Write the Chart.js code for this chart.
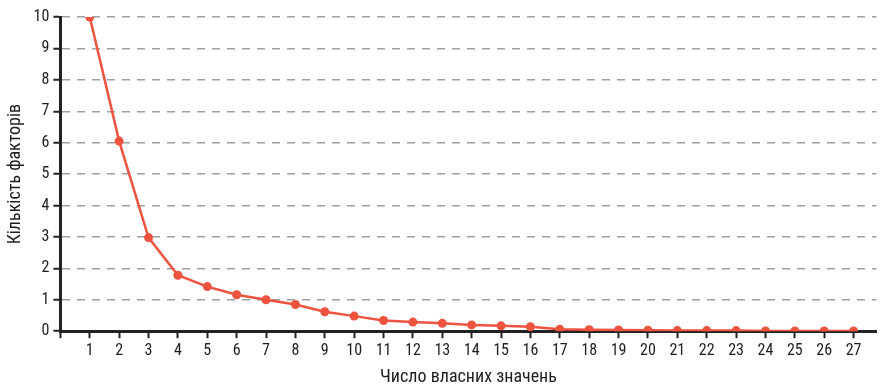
<!DOCTYPE html>
<html>
<head>
<meta charset="utf-8">
<script src="https://cdn.jsdelivr.net/npm/chart.js@4.4.0/dist/chart.umd.min.js"></script>
<style>
  html, body { margin: 0; padding: 0; background: #fff; }
  #wrap { width: 881px; height: 384px; }
</style>
</head>
<body>
<div id="wrap"><canvas id="screeChart"></canvas></div>
<script>
// --- Data ---
const eigenNumbers = [1, 2, 3, 4, 5, 6, 7, 8, 9, 10, 11, 12, 13, 14, 15, 16, 17, 18, 19, 20, 21, 22, 23, 24, 25, 26, 27];
const factorCounts = [10, 6.05, 2.98, 1.78, 1.42, 1.16, 1.0, 0.85, 0.62, 0.48, 0.34, 0.29, 0.25, 0.2, 0.17, 0.14, 0.06, 0.05, 0.04, 0.03, 0.02, 0.02, 0.02, 0.01, 0.01, 0.01, 0.01];
const yTicks = [0, 1, 2, 3, 4, 5, 6, 7, 8, 9, 10];

const fontFamily = "'Liberation Sans Narrow', 'Roboto Condensed', 'Liberation Sans', sans-serif";
const lineColor = '#ee5340';
const textColor = '#1e1e1e';

const ctx = document.getElementById('screeChart').getContext('2d');
new Chart(ctx, {
    type: 'line',
    data: {
        datasets: [{
            data: eigenNumbers.map((n, i) => ({ x: n, y: factorCounts[i] })),
            borderColor: lineColor,
            backgroundColor: lineColor,
            borderWidth: 2.5,
            pointRadius: 4.5,
            pointBorderWidth: 0,
            tension: 0
        }]
    },
    options: {
        responsive: true,
        maintainAspectRatio: false,
        animation: false,
        // top padding is a floor, not added to the label overflow
        layout: { padding: { top: 17, right: 0, left: 5, bottom: 0 } },
        plugins: { legend: { display: false }, tooltip: { enabled: false } },
        scales: {
            x: {
                type: 'linear',
                min: 0,
                max: 27.78,
                grid: { drawOnChartArea: false, drawTicks: true, tickColor: '#222', tickWidth: 2, tickLength: 7 },
                border: { display: true, color: '#222', width: 3 },
                ticks: {
                    stepSize: 1,
                    includeBounds: false,
                    color: textColor,
                    padding: 3,
                    font: { family: fontFamily, size: 16 },
                    maxRotation: 0,
                    autoSkip: false,
                    callback: v => (v === 0 ? '' : v)
                },
                title: {
                    display: true,
                    text: 'Число власних значень',
                    color: textColor,
                    font: { family: fontFamily, size: 18 },
                    padding: { top: 3, bottom: -4 }
                }
            },
            y: {
                min: 0,
                max: 10,
                afterBuildTicks: axis => { axis.ticks = yTicks.map(v => ({ value: v })); },
                grid: { color: '#a0a0a0', lineWidth: 1.5, drawTicks: true, tickColor: '#222', tickWidth: 2, tickLength: 7 },
                border: { display: true, color: '#222', width: 3, dash: [8, 7] },
                ticks: {
                    color: textColor,
                    padding: 4,
                    font: { family: fontFamily, size: 16 }
                },
                title: {
                    display: true,
                    text: 'Кількість факторів',
                    color: textColor,
                    font: { family: fontFamily, size: 18 },
                    padding: { top: 0, bottom: 3 }
                }
            }
        }
    }
});
</script>
</body>
</html>
